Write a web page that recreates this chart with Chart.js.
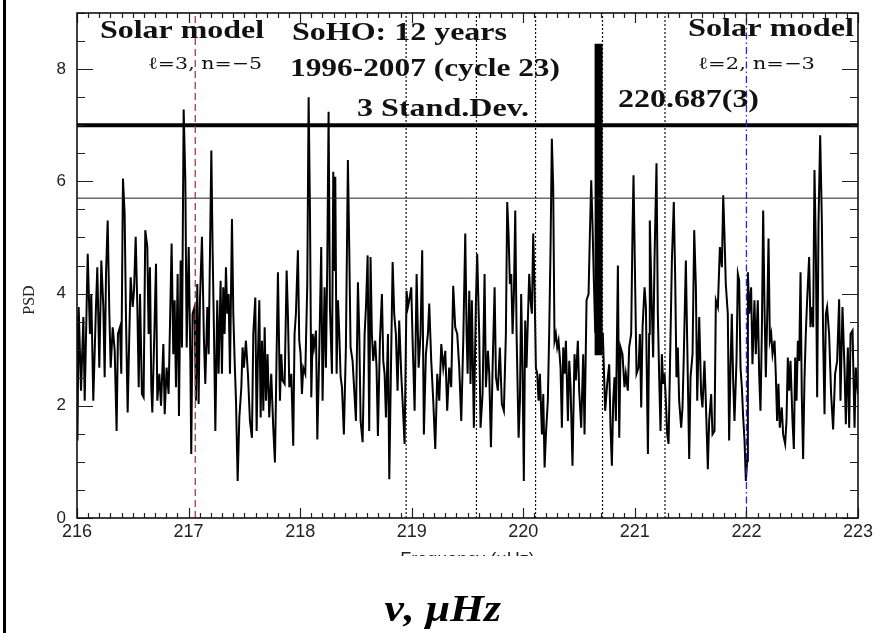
<!DOCTYPE html>
<html>
<head>
<meta charset="utf-8">
<script src="https://cdn.jsdelivr.net/npm/chart.js@4.4.1/dist/chart.umd.min.js"></script>
<style>
  html, body { margin:0; padding:0; background:#fff; }
  #page { position:relative; width:885px; height:633px; overflow:hidden; background:#fff; }
  #clip { position:absolute; left:0; top:0; width:885px; height:556px; overflow:hidden; }
  #edge { position:absolute; left:3px; top:0; width:3px; height:633px; background:#000; }
  #unit { position:absolute; left:0; top:586px; width:885px; line-height:38px; text-align:center;
          font:bold italic 38px "Liberation Serif", serif; color:#000; }
  #unit span { display:inline-block; transform:scaleX(1.15); }
</style>
</head>
<body>
<div id="page">
  <div id="clip"><canvas id="chart" width="885" height="580"></canvas></div>
  <div id="edge"></div>
  <div id="unit"><span>ν, μHz</span></div>
</div>
<script>
// spectrum (frequency in μHz, PSD)
const freq = [
  216.000,216.004,216.015,216.036,216.057,216.069,216.096,216.116,216.128,216.146,
  216.170,216.182,216.200,216.218,216.236,216.248,216.260,216.275,216.290,216.302,
  216.320,216.338,216.355,216.367,216.385,216.397,216.412,216.427,216.439,216.454,
  216.469,216.481,216.499,216.511,216.526,216.541,216.553,216.565,216.582,216.597,
  216.612,216.630,216.642,216.654,216.666,216.675,216.693,216.708,216.720,216.738,
  216.753,216.774,216.786,216.803,216.821,216.848,216.863,216.875,216.887,216.902,
  216.914,216.929,216.941,216.956,216.971,216.983,217.001,217.016,217.024,217.036,
  217.054,217.066,217.078,217.090,217.102,217.120,217.138,217.150,217.168,
  217.180,217.204,217.216,217.228,217.240,217.257,217.269,217.287,217.299,217.311,
  217.323,217.335,217.347,217.359,217.371,217.389,217.401,217.413,217.425,217.440,
  217.455,217.473,217.484,217.496,217.514,217.532,217.550,217.568,217.580,217.598,
  217.610,217.622,217.634,217.646,217.658,217.670,217.682,217.694,217.708,217.723,
  217.741,217.759,217.774,217.789,217.801,217.819,217.831,217.843,217.861,217.879,
  217.891,217.903,217.921,217.938,217.950,217.962,217.980,217.992,218.004,218.016,
  218.028,218.046,218.064,218.076,218.088,218.100,218.112,218.124,218.142,218.154,
  218.171,218.189,218.201,218.219,218.231,218.243,218.255,218.267,218.285,218.297,
  218.306,218.315,218.327,218.339,
  218.351,218.363,218.375,218.392,218.410,218.428,218.440,218.452,218.470,218.485,
  218.500,218.518,218.530,218.542,218.560,218.578,218.590,218.605,218.619,218.631,
  218.643,218.655,218.673,218.685,218.697,218.715,218.733,218.745,218.757,218.769,
  218.787,218.799,218.814,218.829,218.843,218.858,218.873,218.888,218.906,218.918,
  218.936,218.954,218.966,218.978,218.996,219.008,219.026,219.044,219.062,219.079,
  219.094,219.109,219.127,219.145,219.157,219.175,219.193,219.211,219.229,219.247,
  219.265,219.283,219.301,219.318,219.336,219.354,219.372,219.390,219.408,219.426,
  219.444,219.462,219.480,219.492,
  219.501,219.516,219.527,219.539,219.557,219.575,219.587,219.605,219.617,219.635,
  219.653,219.665,219.683,219.695,219.710,219.725,219.743,219.755,219.772,219.790,
  219.808,219.826,219.844,219.856,219.868,219.880,219.892,219.904,219.916,219.928,
  219.940,219.958,219.970,219.981,219.993,220.005,220.017,220.029,220.041,220.053,
  220.065,220.077,220.089,220.101,220.113,220.125,220.137,220.149,220.167,220.179,
  220.191,220.203,220.220,220.232,220.244,220.256,220.268,220.280,220.292,220.304,
  220.316,220.334,220.346,220.358,220.370,220.382,220.400,220.412,220.424,220.441,
  220.459,220.471,220.489,220.501,220.519,220.537,220.549,220.567,220.585,220.597,
  220.609,220.621,220.633,220.645,220.660,220.690,220.705,220.713,
  220.722,220.734,220.752,220.770,220.782,220.794,220.806,220.818,220.830,220.848,
  220.860,220.872,220.889,220.907,220.919,220.937,220.949,220.967,220.979,220.988,
  221.003,221.015,221.033,221.045,221.057,221.069,221.087,221.099,221.117,221.128,
  221.134,221.152,221.164,221.176,221.194,221.206,221.218,221.230,221.242,221.254,
  221.266,221.278,221.290,221.302,221.320,221.332,221.349,221.361,221.373,221.385,
  221.397,221.415,221.427,221.439,221.457,221.469,221.487,221.499,221.517,221.532,
  221.547,221.559,221.577,221.594,221.606,221.624,221.636,221.654,221.666,221.684,
  221.696,221.714,221.726,221.744,221.762,221.780,221.792,221.803,221.815,221.833,
  221.845,221.857,221.869,221.881,221.893,221.911,221.923,221.935,221.947,221.959,
  221.971,221.983,221.995,222.007,222.013,222.025,222.042,222.054,222.072,222.084,
  222.102,222.114,222.126,222.138,222.150,222.162,222.174,222.186,222.198,222.210,
  222.222,222.234,222.252,222.263,222.275,222.287,222.299,222.317,222.329,222.347,
  222.359,222.371,222.383,222.395,222.413,222.425,222.437,222.449,222.461,222.473,
  222.485,222.496,222.508,222.520,222.532,222.544,222.562,222.574,222.586,222.598,
  222.610,222.622,222.634,222.646,222.661,222.676,222.688,222.700,222.712,222.723,
  222.741,222.759,222.777,222.795,222.813,222.831,222.843,222.861,222.879,222.891,
  222.909,222.921,222.933,222.951,222.969,222.980,223.000
];
const psd = [
  3.60,1.38,3.76,2.27,3.58,2.09,4.71,3.28,3.99,2.09,
  3.76,4.47,2.68,4.59,3.76,2.51,4.35,5.30,3.64,2.68,
  3.40,2.98,1.55,3.28,3.40,2.57,6.05,5.42,3.58,1.88,
  3.28,4.29,3.76,4.05,5.01,3.76,2.33,3.99,2.21,2.15,
  5.13,4.83,3.28,4.47,2.33,1.88,3.28,4.53,2.09,2.57,
  2.00,3.10,1.85,2.68,2.21,4.89,2.92,3.88,2.33,4.35,
  1.82,4.59,3.04,7.28,6.02,3.04,4.83,2.80,1.14,3.64,
  3.76,2.09,4.17,2.03,3.88,5.01,3.16,2.39,3.76,
  2.92,6.55,4.71,3.28,1.55,3.88,2.57,4.23,2.57,4.11,
  3.28,4.47,3.64,3.99,2.57,5.33,3.64,2.80,2.09,0.66,
  1.79,2.33,3.04,2.68,3.16,2.57,1.73,1.43,3.28,3.93,
  1.55,2.92,3.88,1.79,3.16,1.91,3.40,2.09,2.92,1.79,
  2.57,1.61,0.99,2.92,4.38,2.09,2.92,2.45,2.39,4.41,
  3.58,2.33,2.57,1.29,3.28,3.64,4.77,3.16,2.92,2.21,
  2.68,2.57,4.17,7.50,5.48,2.15,3.28,3.04,3.34,1.40,
  2.92,4.83,2.09,4.11,2.68,4.50,7.24,3.76,2.57,6.17,
  4.40,6.08,2.57,3.88,
  3.28,2.51,2.33,1.49,3.04,6.38,4.83,3.04,2.80,2.27,
  1.73,4.20,3.28,1.73,1.35,3.28,3.76,4.68,1.55,4.65,
  3.28,2.80,3.16,2.68,1.46,3.16,3.99,2.80,2.57,1.79,
  3.28,0.69,2.68,4.56,3.64,3.28,2.27,3.52,2.57,2.09,
  1.32,4.05,3.76,3.88,4.11,3.16,1.91,4.35,2.68,3.28,
  4.77,1.49,2.92,3.28,3.82,2.80,2.09,1.23,2.57,2.09,
  3.10,2.68,2.98,1.91,2.68,2.33,4.14,3.40,3.28,2.68,
  1.73,3.16,5.07,3.28,
  2.57,4.05,2.39,3.88,1.61,3.82,4.71,3.28,1.61,2.21,
  4.35,2.33,2.98,2.57,1.26,2.68,4.11,2.51,2.27,3.04,
  2.03,1.91,3.28,5.63,5.07,4.17,4.35,3.28,3.99,5.48,
  3.28,1.43,2.09,3.99,2.68,0.66,3.52,2.68,3.52,4.35,
  3.88,3.64,5.07,4.11,2.68,2.57,2.09,2.57,1.49,2.21,
  0.90,1.49,2.09,3.28,4.77,6.76,5.90,3.16,3.28,3.04,
  3.16,2.68,1.61,3.04,2.57,3.16,1.73,2.80,2.33,0.93,
  2.92,2.45,3.16,2.27,1.61,2.92,1.49,3.88,3.99,5.07,
  6.02,5.18,4.20,3.30,3.50,3.90,3.00,3.30,
  2.68,1.91,2.39,2.74,1.61,0.93,2.09,2.51,1.73,4.50,
  1.43,3.04,2.92,2.33,2.57,2.27,3.04,3.28,5.13,6.11,
  4.11,2.57,2.68,3.28,1.97,3.40,4.11,3.76,1.14,3.28,
  5.30,3.76,2.86,4.59,6.32,3.64,2.51,1.55,2.92,2.39,
  2.57,2.09,1.49,1.32,3.28,4.59,5.63,4.35,2.51,3.04,
  2.09,1.61,1.97,2.92,4.59,3.16,1.05,2.51,2.92,5.13,
  4.11,2.09,3.58,2.21,1.97,2.80,2.09,0.87,1.73,2.21,
  1.49,1.55,3.88,3.76,4.83,4.47,5.75,5.07,4.17,3.64,
  1.38,2.68,3.64,2.45,1.73,2.80,4.35,4.23,2.68,2.33,
  1.79,1.38,0.66,1.02,4.38,3.64,4.11,2.74,3.88,2.92,
  3.88,2.57,1.91,3.28,5.48,3.76,2.51,3.58,4.98,3.16,
  3.28,2.92,3.16,2.57,1.73,2.39,1.61,1.97,1.49,1.32,
  1.73,2.86,2.27,2.80,1.73,1.23,2.86,2.09,3.16,2.80,
  4.38,2.21,1.05,2.45,3.28,3.88,4.65,3.40,3.76,3.40,
  6.20,4.83,2.15,5.24,6.82,5.30,3.16,1.85,3.64,3.76,
  3.28,2.21,1.58,2.57,2.80,3.90,2.09,3.76,2.68,1.67,
  3.04,1.61,3.28,3.34,1.61,2.68,2.20
];

// detected peak 220.687(3), drawn as a heavy bar
const peakFreq = 220.675;
const peakRange = [2.9, 8.45];

// horizontal levels: 3 standard deviations and the thinner reference level
const sigmaLevels = [7.0, 5.7];
// solar model frequencies: l=3,n=-5 and l=2,n=-3
const modelFreqs = [217.06, 222.0];
// dotted markers
const markFreqs = [218.95, 219.58, 220.11, 220.71, 221.27];

const xTicks = [216, 217, 218, 219, 220, 221, 222, 223];
const yTicks = [0, 2, 4, 6, 8];

const vline = (f) => [{ x: f, y: 0 }, { x: f, y: 9 }];
const hline = (v) => [{ x: 216, y: v }, { x: 223, y: v }];

const datasets = [
  {
    data: freq.map((f, i) => ({ x: f, y: psd[i] })),
    borderColor: "#000", borderWidth: 2, order: 5
  },
  {
    data: [{ x: peakFreq, y: peakRange[0] }, { x: peakFreq, y: peakRange[1] }],
    borderColor: "#000", borderWidth: 8, borderCapStyle: "butt", order: 4
  },
  { data: hline(sigmaLevels[0]), borderColor: "#000", borderWidth: 4, order: 3 },
  { data: hline(sigmaLevels[1]), borderColor: "#222", borderWidth: 1, order: 3 },
  { data: vline(modelFreqs[0]), borderColor: "#d42a2a", borderWidth: 1.3, borderDash: [7, 4], order: 1 },
  { data: vline(modelFreqs[1]), borderColor: "#2c2ca8", borderWidth: 1.3, borderDash: [7, 3, 1.5, 3], order: 1 },
  ...markFreqs.map(f => ({ data: vline(f), borderColor: "#111", borderWidth: 1.2, borderDash: [2, 2], order: 2 }))
];

const notes = [
  { text: "Solar model", x: 100, y: 38, w: 164, font: "bold 26px 'Liberation Serif'" },
  { text: "ℓ=3, n=−5", x: 148, y: 69, w: 114, font: "17px 'DejaVu Serif'" },
  { text: "SoHO: 12 years", x: 292, y: 40, w: 215, font: "bold 25px 'Liberation Serif'" },
  { text: "1996-2007 (cycle 23)", x: 290, y: 76, w: 270, font: "bold 25px 'Liberation Serif'" },
  { text: "3 Stand.Dev.", x: 357, y: 116, w: 172, font: "bold 25px 'Liberation Serif'" },
  { text: "220.687(3)", x: 618, y: 107, w: 141, font: "bold 25px 'Liberation Serif'" },
  { text: "Solar model", x: 688, y: 36, w: 166, font: "bold 26px 'Liberation Serif'" },
  { text: "ℓ=2, n=−3", x: 698, y: 69, w: 117, font: "17px 'DejaVu Serif'" }
];

// inward ticks on all four sides, frame, and the text labels
const decor = {
  id: "decor",
  afterDraw(chart) {
    const { ctx, chartArea: a, scales: { x, y } } = chart;
    ctx.save();
    ctx.strokeStyle = "#222";
    ctx.lineWidth = 1.2;
    ctx.beginPath();
    for (let k = 0; k <= 70; k++) {
      const px = Math.round(x.getPixelForValue(216 + k / 10)) + 0.5;
      const len = k % 10 === 0 ? 10 : 5;
      ctx.moveTo(px, a.bottom); ctx.lineTo(px, a.bottom - len);
      ctx.moveTo(px, a.top); ctx.lineTo(px, a.top + len);
    }
    for (let k = 0; k <= 18; k++) {
      const py = Math.round(y.getPixelForValue(k / 2)) + 0.5;
      const len = k % 4 === 0 ? 16 : 8;
      ctx.moveTo(a.left, py); ctx.lineTo(a.left + len, py);
      ctx.moveTo(a.right, py); ctx.lineTo(a.right - len, py);
    }
    ctx.stroke();
    ctx.lineWidth = 1.6;
    ctx.strokeStyle = "#111";
    ctx.strokeRect(a.left, a.top, a.right - a.left, a.bottom - a.top);

    ctx.fillStyle = "#111";
    ctx.textBaseline = "alphabetic";
    notes.forEach(t => {
      ctx.save();
      ctx.font = t.font;
      const w = ctx.measureText(t.text).width;
      ctx.translate(t.x, t.y);
      ctx.scale(t.w / w, 1);
      ctx.fillText(t.text, 0, 0);
      ctx.restore();
    });

    // y axis name sits a little below the axis middle in the original
    ctx.save();
    ctx.font = "16px 'Liberation Serif'";
    ctx.fillStyle = "#222";
    ctx.textAlign = "center";
    ctx.textBaseline = "middle";
    ctx.translate(30, 300);
    ctx.rotate(-Math.PI / 2);
    ctx.fillText("PSD", 0, 0);
    ctx.restore();
    ctx.restore();
  }
};

new Chart(document.getElementById("chart"), {
  type: "line",
  data: { datasets },
  options: {
    responsive: false,
    animation: false,
    devicePixelRatio: 1,
    layout: { padding: { left: 0, top: 13, right: 27, bottom: 0 } },
    elements: { point: { radius: 0 }, line: { tension: 0 } },
    plugins: { legend: { display: false }, tooltip: { enabled: false } },
    scales: {
      x: {
        type: "linear", min: 216, max: 223,
        afterBuildTicks: (s) => { s.ticks = xTicks.map(v => ({ value: v })); },
        afterFit: (s) => { s.height = 62; s.paddingLeft = 0; s.paddingRight = 0; },
        grid: { display: false, drawTicks: false },
        border: { display: false },
        ticks: { padding: 3, color: "#222", font: { family: "'Liberation Sans'", size: 18 }, maxRotation: 0 },
        title: { display: true, text: "Frequency (μHz)", color: "#222",
                 font: { family: "'Liberation Sans'", size: 18 }, padding: { top: 0, bottom: 9 } }
      },
      y: {
        type: "linear", min: 0, max: 9,
        afterBuildTicks: (s) => { s.ticks = yTicks.map(v => ({ value: v })); },
        afterFit: (s) => { s.width = 77; s.paddingTop = 0; s.paddingBottom = 0; },
        grid: { display: false, drawTicks: false },
        border: { display: false },
        ticks: { padding: 11, color: "#222", font: { family: "'Liberation Sans'", size: 17 } }
      }
    }
  },
  plugins: [decor]
});
</script>
</body>
</html>
